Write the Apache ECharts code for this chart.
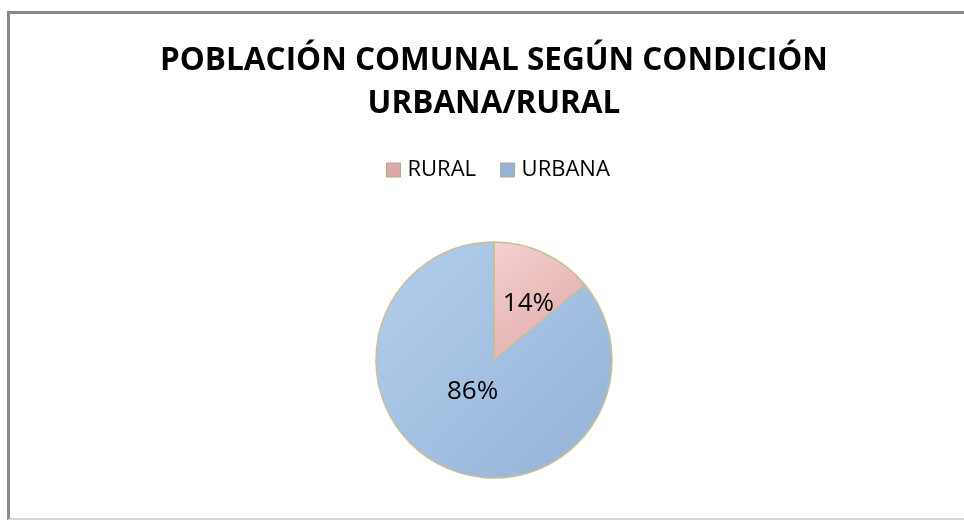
<!DOCTYPE html>
<html>
    <head>
        <meta charset="utf-8">
        <title>Población comunal</title>
        <script src="https://cdn.jsdelivr.net/npm/echarts@6/dist/echarts.min.js"></script>
        <style>
            body { margin: 0; background: #fff; }
            #frame { position: absolute; left: 7px; top: 11px; width: 970px; height: 504px;
                     border-left: 3px solid #8a8a8a; border-top: 3px solid #8a8a8a;
                     border-bottom: 2px solid #d8d8d8; }
            #chart1 { position: absolute; left: 0; top: 0; width: 964px; height: 520px; }
        </style>
    </head>
    <body>
        <div id="frame"></div>
        <div id="chart1"></div>
    </body>

    <script type="text/javascript">
        // datos del gráfico
        var categorias = ['RURAL', 'URBANA'];
        var porcentajes = [14, 86];
        var colores = [
            ['#f6d0cf', '#dca9a8'],
            ['#b3cdec', '#95b3d7']
        ];
        var desplazamientos = [[8, 0], [5, -25]];

        var myChart1 = echarts.init(document.getElementById('chart1'));

        var datos = categorias.map(function (nombre, i) {
            return {
                name: nombre,
                value: porcentajes[i],
                itemStyle: {
                    color: new echarts.graphic.LinearGradient(0, 0, 1, 1, [
                        { offset: 0, color: colores[i][0] },
                        { offset: 1, color: colores[i][1] }
                    ])
                },
                label: { offset: desplazamientos[i] }
            };
        });

        myChart1.setOption({
            animation: false,
            title: {
                text: 'POBLACIÓN COMUNAL SEGÚN CONDICIÓN\nURBANA/RURAL',
                left: 489,
                textAlign: 'center',
                top: 35,
                textStyle: {
                    fontFamily: 'Open Sans',
                    fontWeight: 'bold',
                    fontSize: 31.5,
                    lineHeight: 43,
                    color: '#000'
                }
            },
            legend: {
                top: 154,
                left: 381,
                itemWidth: 14,
                itemHeight: 14,
                itemGap: 24,
                icon: 'rect',
                data: categorias.map(function (c, i) {
                    return { name: c, itemStyle: { color: colores[i][1], borderColor: '#b3aa8c', borderWidth: 1 } };
                }),
                textStyle: {
                    fontFamily: 'Open Sans',
                    fontSize: 22,
                    color: '#000',
                    padding: [0, 0, 0, 2]
                }
            },
            series: [
                {
                    type: 'pie',
                    radius: 118,
                    center: [494, 360],
                    startAngle: 90,
                    clockwise: true,
                    data: datos,
                    itemStyle: {
                        borderColor: '#c8bf98',
                        borderWidth: 1.5
                    },
                    label: {
                        show: true,
                        position: 'inside',
                        formatter: '{c}%',
                        fontFamily: 'Open Sans',
                        fontSize: 26,
                        color: '#000'
                    },
                    labelLine: { show: false },
                    emphasis: { disabled: true }
                }
            ]
        });
    </script>
</html>
